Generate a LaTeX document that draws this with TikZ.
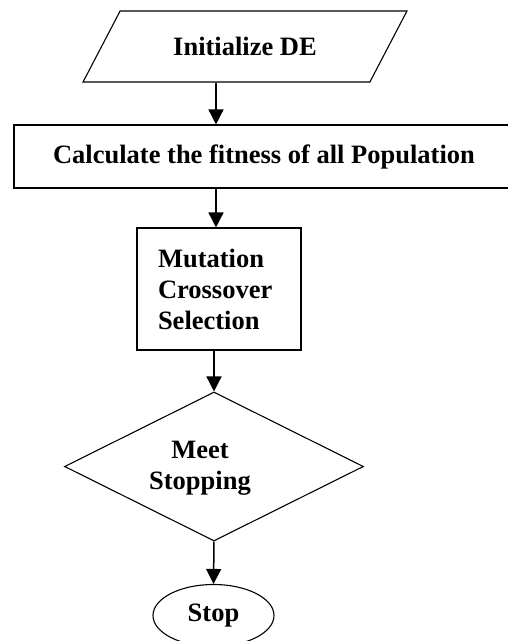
\documentclass[tikz,border=0pt]{standalone}
\usepackage{fontspec}
\setmainfont{Liberation Serif}
\usetikzlibrary{shapes.geometric,arrows.meta}
\begin{document}
\begin{tikzpicture}[x=1pt,y=-1pt,
  every node/.style={font=\fontsize{26.5}{31}\selectfont\bfseries, line width=1.1pt, inner sep=0pt},
  box/.style={draw, rectangle},
  arr/.style={line width=1.5pt, -{Triangle[width=15pt,length=15pt]}}]
\useasboundingbox (0,0) rectangle (508,641);
\coordinate (axis) at (216,0);
\node[draw, trapezium, trapezium left angle=41.2, trapezium right angle=138.8,
      trapezium stretches=true, minimum width=324pt, minimum height=71pt] (init) at (245,46.5) {Initialize DE};
\node[box, minimum width=500pt, minimum height=63pt] (calc) at (264,156.5) {Calculate the fitness of all Population};
\node[box, minimum width=164pt, minimum height=122pt, text width=122pt, align=left] (mut) at (219,289) {Mutation\\Crossover\\Selection};
\node[draw, diamond, minimum width=299pt, minimum height=149pt] (dec) at (214,466.5) {};
\node[align=center] (dect) at (200,468) {Meet\\Stopping};
\node[draw, ellipse, minimum width=121pt, minimum height=62pt] (stop) at (213.5,615.5) {Stop};
\draw[arr] (axis |- init.south) -- (axis |- calc.north);
\draw[arr] (axis |- calc.south) -- (axis |- mut.north);
\draw[arr] (dec.north |- mut.south) -- (dec.north);
\draw[arr] (dec.south) -- (stop.north);
\end{tikzpicture}
\end{document}
